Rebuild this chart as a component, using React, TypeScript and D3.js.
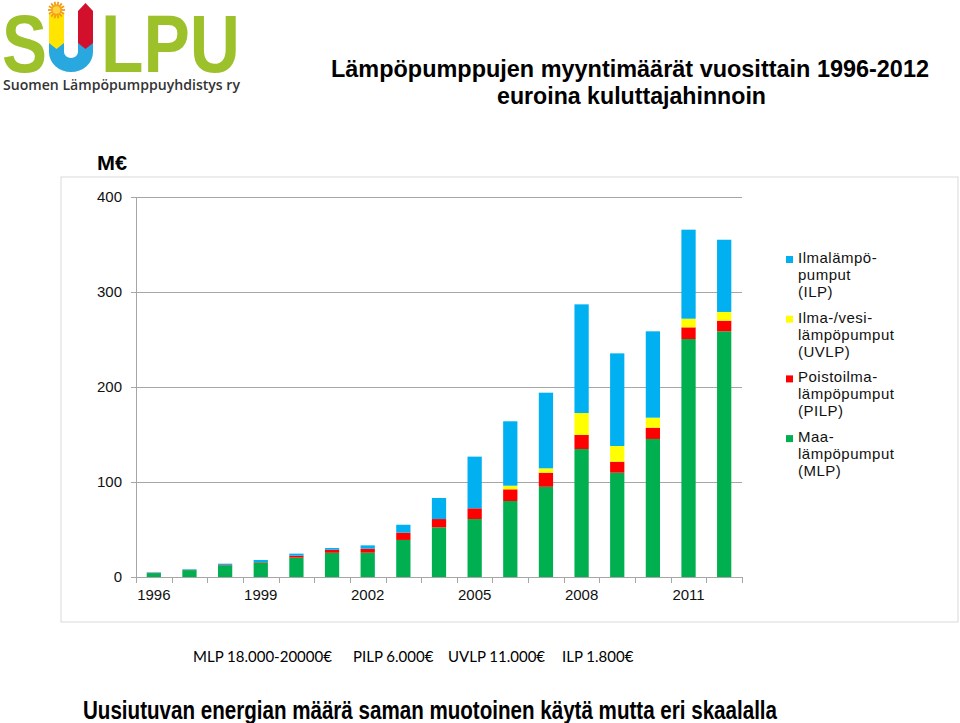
import React from "react";
import * as d3 from "d3";

const years = ["1996","1997","1998","1999","2000","2001","2002","2003","2004","2005","2006","2007","2008","2009","2010","2011","2012"];
const mlp = [4.1, 7.2, 12.2, 15.2, 20.4, 25.5, 25.6, 39, 52.3, 61, 80, 95, 134.7, 109.8, 145.3, 250.5, 258.6];
const pilp = [0.3, 0.3, 0.5, 0.5, 2.1, 3.2, 4.2, 7.7, 8.7, 11.3, 12.3, 14.8, 14.8, 11.6, 11.9, 12.3, 11.2];
const uvlp = [0, 0, 0, 0, 0, 0, 0, 0, 0, 0, 3.8, 4.6, 23.1, 16.5, 10.5, 9.1, 9.2];
const ilp = [0.5, 0.6, 1.3, 2.2, 2.1, 1.8, 3.5, 8.3, 22.2, 54.4, 67.8, 79.6, 114.4, 97.5, 90.9, 93.7, 76];
const yTicks = [0, 100, 200, 300, 400];
const xTickLabels = ["1996", "1999", "2002", "2005", "2008", "2011"];
const seriesKeys = ["MLP", "PILP", "UVLP", "ILP"];
const seriesColors: Record<string, string> = { MLP: "#00B050", PILP: "#FF0000", UVLP: "#FFFF00", ILP: "#00B0F0" };
const legendItems = [
  { key: "ILP", lines: ["Ilmalämpö-", "pumput", "(ILP)"] },
  { key: "UVLP", lines: ["Ilma-/vesi-", "lämpöpumput", "(UVLP)"] },
  { key: "PILP", lines: ["Poistoilma-", "lämpöpumput", "(PILP)"] },
  { key: "MLP", lines: ["Maa-", "lämpöpumput", "(MLP)"] },
];
const priceLabels = [
  { text: "MLP 18.000-20000€", x: 193 },
  { text: "PILP 6.000€", x: 353 },
  { text: "UVLP 11.000€", x: 448 },
  { text: "ILP 1.800€", x: 562 },
];

const rows = years.map((y, i) => ({ year: y, MLP: mlp[i], PILP: pilp[i], UVLP: uvlp[i], ILP: ilp[i] }));

export default function App() {
  const x = d3.scaleBand<string>().domain(years).range([136, 742]).paddingInner(0.6).paddingOuter(0.3);
  const y = d3.scaleLinear().domain([0, 400]).range([577, 197]);
  const stacked = d3.stack<any>().keys(seriesKeys)(rows);
  const step = x.step();
  const x0 = 136;
  const boundaries = d3.range(years.length + 1).map((i) => x0 + i * step);
  const font = "'Liberation Sans', Arial, sans-serif";
  const green = "#9DC12A";

  const rays = d3.range(14).map((i) => ({ a: (i / 14) * Math.PI * 2 }));

  return (
    <svg width={960} height={723} style={{ position: "absolute", left: 0, top: 0, background: "#fff" }}>
      <rect x={0} y={0} width={960} height={723} fill="#fff" />
      {/* Logo */}
      <g>
        <text x={2} y={72} fontFamily={font} fontWeight="bold" fontSize={82} fill={green} textLength={45} lengthAdjust="spacingAndGlyphs">S</text>
        <path d="M49,14 L49,52 A22,20 0 0 0 93,52 L93,14 L78,14 L78,52 A7,6 0 0 1 64,52 L64,14 Z" fill="#29A8E0" />
        <path d="M49,14 L64,14 L64,43 L56.5,49 L49,43 Z" fill="#FFE500" />
        <path d="M85.5,3 L93,11 L93,43 L85.5,49 L78,43 L78,11 Z" fill="#D3102C" />
        <g transform="translate(56.5,10)">
          {rays.map((r, i) => (
            <line key={i} x1={Math.cos(r.a) * 5} y1={Math.sin(r.a) * 5} x2={Math.cos(r.a) * 8.5} y2={Math.sin(r.a) * 8.5} stroke="#F39C12" strokeWidth={1.8} />
          ))}
          <circle r={5.5} fill="#F7A21B" />
          <circle r={3.8} fill="#FFD43A" />
        </g>
        <text x={101} y={72} fontFamily={font} fontWeight="bold" fontSize={82} fill={green} textLength={139} lengthAdjust="spacingAndGlyphs">LPU</text>
        <text x={3} y={90} fontFamily="'Open Sans', sans-serif" fontWeight={600} fontSize={15} fill="#333" textLength={237} lengthAdjust="spacingAndGlyphs">Suomen Lämpöpumppuyhdistys ry</text>
      </g>

      {/* Title */}
      <text x={331} y={77} fontFamily={font} fontWeight="bold" fontSize={24} fill="#000" textLength={598} lengthAdjust="spacingAndGlyphs">Lämpöpumppujen myyntimäärät vuosittain 1996-2012</text>
      <text x={497} y={104} fontFamily={font} fontWeight="bold" fontSize={24} fill="#000" textLength={269} lengthAdjust="spacingAndGlyphs">euroina kuluttajahinnoin</text>

      <text x={97} y={170} fontFamily={font} fontWeight="bold" fontSize={20} fill="#000" textLength={30} lengthAdjust="spacingAndGlyphs">M€</text>

      {/* Chart frame */}
      <rect x={61} y={177} width={897} height={445} fill="#fff" stroke="#d9d9d9" strokeWidth={1} />

      {/* Gridlines */}
      {yTicks.filter((t) => t > 0).map((t) => (
        <line key={t} x1={136} x2={742} y1={Math.round(y(t)) + 0.5} y2={Math.round(y(t)) + 0.5} stroke="#a6a6a6" strokeWidth={1} />
      ))}
      {/* Y axis */}
      <line x1={136.5} x2={136.5} y1={y(400)} y2={y(0)} stroke="#a6a6a6" />
      {yTicks.map((t) => (
        <g key={t}>
          <line x1={131} x2={136} y1={Math.round(y(t)) + 0.5} y2={Math.round(y(t)) + 0.5} stroke="#a6a6a6" />
          <text x={122} y={y(t)} dy="0.36em" textAnchor="end" fontFamily={font} fontSize={15} fill="#111">{t}</text>
        </g>
      ))}

      {/* Bars */}
      {stacked.map((s) => (
        <g key={s.key} fill={seriesColors[s.key]}>
          {s.map((d, i) => {
            const h = y(d[0]) - y(d[1]);
            if (h <= 0) return null;
            return <rect key={i} x={x(years[i])} y={y(d[1])} width={x.bandwidth()} height={h} />;
          })}
        </g>
      ))}

      {/* X axis */}
      <line x1={136} x2={742} y1={577.5} y2={577.5} stroke="#a6a6a6" />
      {boundaries.map((b, i) => (
        <line key={i} x1={Math.round(b) + 0.5} x2={Math.round(b) + 0.5} y1={577} y2={583} stroke="#a6a6a6" />
      ))}
      {xTickLabels.map((l) => (
        <text key={l} x={(x(l) as number) + x.bandwidth() / 2} y={600} textAnchor="middle" fontFamily={font} fontSize={15} fill="#111">{l}</text>
      ))}

      {/* Legend */}
      {legendItems.map((item, gi) => {
        const base = 263 + gi * 59.7;
        return (
          <g key={item.key}>
            <rect x={786} y={base - 7} width={7} height={7} fill={seriesColors[item.key]} />
            {item.lines.map((ln, li) => (
              <text key={li} x={798} y={base + li * 17} fontFamily={font} fontSize={15} letterSpacing={0.5} fill="#111">{ln}</text>
            ))}
          </g>
        );
      })}

      {/* Prices */}
      {priceLabels.map((p) => (
        <text key={p.text} x={p.x} y={662} fontFamily="Lato, 'Open Sans', sans-serif" fontSize={15} fill="#000">{p.text}</text>
      ))}

      {/* Bottom text */}
      <text x={83} y={719} fontFamily={font} fontWeight="bold" fontSize={25} fill="#000" textLength={694} lengthAdjust="spacingAndGlyphs">Uusiutuvan energian määrä saman muotoinen käytä mutta eri skaalalla</text>
    </svg>
  );
}
